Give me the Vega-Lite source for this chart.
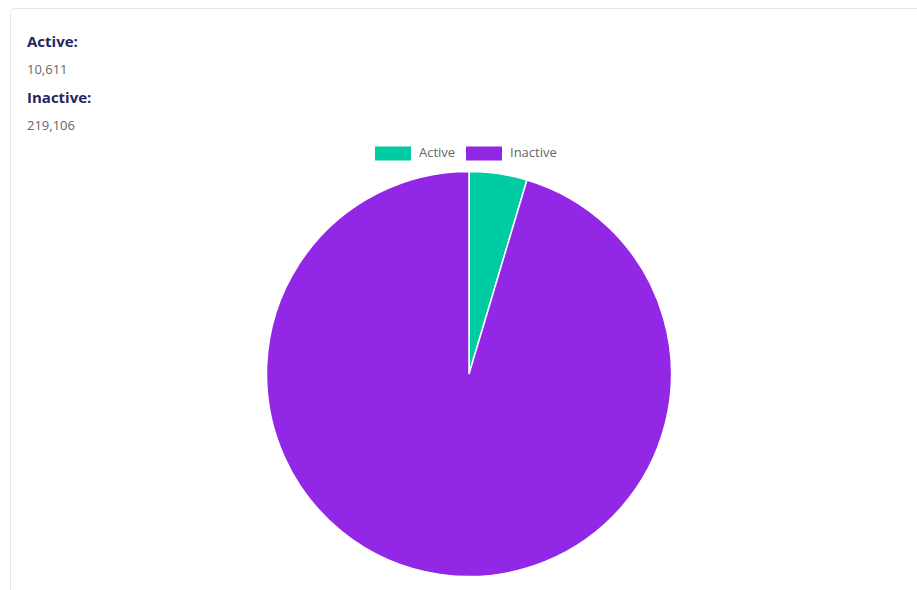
{
  "$schema": "https://vega.github.io/schema/vega-lite/v6.json",
  "width": 918,
  "height": 732,
  "autosize": {"type": "none"},
  "padding": {"left": 10, "top": 8, "right": 0, "bottom": 0},
  "background": "white",
  "config": {
    "view": {"stroke": "#e5e5e5", "strokeWidth": 1, "cornerRadius": 4},
    "font": "Open Sans"
  },
  "data": {
    "values": [
      {"status": "Active", "count": 10611, "label": "Active:"},
      {"status": "Inactive", "count": 219106, "label": "Inactive:"}
    ]
  },
  "layer": [
    {
      "mark": {"type": "arc", "radius": 202.5, "stroke": "white", "strokeWidth": 1.5},
      "encoding": {
        "theta": {"field": "count", "type": "quantitative", "stack": true},
        "order": {"field": "status", "sort": "ascending"},
        "color": {
          "field": "status",
          "type": "nominal",
          "scale": {"domain": ["Active", "Inactive"], "range": ["#00cca3", "#9327e6"]},
          "legend": {
            "title": null,
            "orient": "none",
            "direction": "horizontal",
            "legendX": 365,
            "legendY": 127,
            "symbolType": "M-1,-0.39H1V0.39H-1Z",
            "symbolSize": 1296,
            "symbolStrokeWidth": 0,
            "symbolOpacity": 1,
            "labelFont": "Open Sans",
            "labelFontSize": 13,
            "labelColor": "#666666",
            "labelOffset": 8,
            "columnPadding": 10
          }
        }
      }
    },
    {
      "mark": {"type": "text", "align": "left", "baseline": "middle", "fontWeight": "bold", "fontSize": 15, "color": "#26265e", "font": "Open Sans"},
      "encoding": {
        "x": {"value": 17},
        "y": {"field": "status", "type": "nominal", "scale": {"type": "point", "range": [34, 90], "padding": 0}, "axis": null},
        "text": {"field": "label"}
      }
    },
    {
      "mark": {"type": "text", "align": "left", "baseline": "middle", "fontSize": 13, "color": "#666666", "dy": 28, "font": "Open Sans"},
      "encoding": {
        "x": {"value": 17},
        "y": {"field": "status", "type": "nominal", "scale": {"type": "point", "range": [34, 90], "padding": 0}, "axis": null},
        "text": {"field": "count", "type": "quantitative", "format": ","}
      }
    }
  ]
}
